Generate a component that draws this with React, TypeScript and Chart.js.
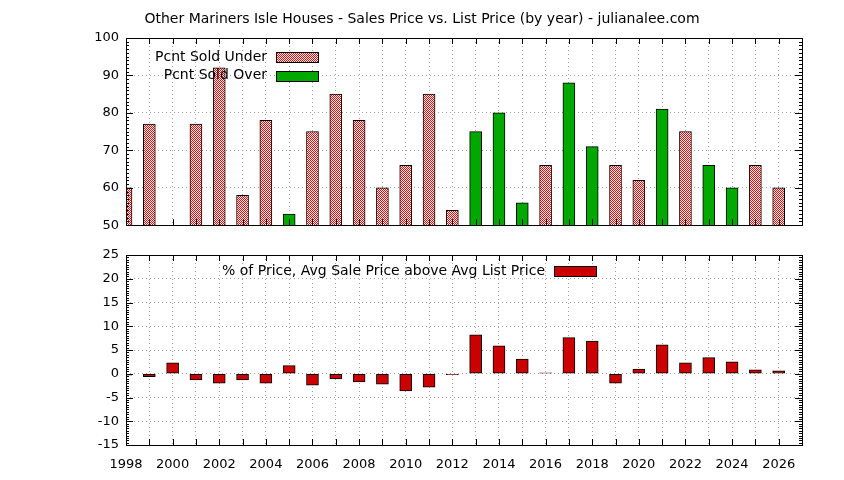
import { useEffect, useRef } from "react";
import { Chart, registerables } from "chart.js";

Chart.register(...registerables);

const years = [
  1998, 1999, 2000, 2001, 2002, 2003, 2004, 2005, 2006, 2007,
  2008, 2009, 2010, 2011, 2012, 2013, 2014, 2015, 2016, 2017,
  2018, 2019, 2020, 2021, 2022, 2023, 2024, 2025, 2026,
];

// percent of homes sold under list price (years shown in the hatched style)
const pcntSoldUnder = [
  60, 77, null, 77, 92, 58, 78, null, 75, 85,
  78, 60, 66, 85, 54, null, null, null, 66, null,
  null, 66, 62, null, 75, null, null, 66, 60,
];

// percent of homes sold over list price (solid green years)
const pcntSoldOver = [
  null, null, null, null, null, null, null, 53, null, null,
  null, null, null, null, null, 75, 80, 56, null, 88,
  71, null, null, 81, null, 66, 60, null, null,
];

// avg sale price above avg list price, in percent
const priceAboveList = [
  -0.3, -0.6, 2.3, -1.3, -2.0, -1.3, -2.0, 1.7, -2.4, -1.1,
  -1.7, -2.2, -3.6, -2.8, -0.2, 8.2, 5.9, 3.1, 0.2, 7.6,
  6.9, -2.0, 1.0, 6.1, 2.3, 3.4, 2.5, 0.8, 0.6,
];

const TITLE =
  "Other Mariners Isle Houses - Sales Price vs. List Price (by year) - julianalee.com";
const UNDER_LABEL = "Pcnt Sold Under";
const OVER_LABEL = "Pcnt Sold Over";
const DIFF_LABEL = "% of Price, Avg Sale Price above Avg List Price";

const FONT = "'DejaVu Sans', 'Verdana', sans-serif";
const GRID = "#a0a0a0";

function hatch(): CanvasPattern | string {
  const c = document.createElement("canvas");
  c.width = 4;
  c.height = 4;
  const g = c.getContext("2d");
  if (!g) return "#ff8080";
  g.fillStyle = "#ffffff";
  g.fillRect(0, 0, 4, 4);
  g.fillStyle = "#ff0000";
  for (let i = 0; i < 4; i++) {
    for (let j = 0; j < 4; j++) {
      if ((i + j) % 2 === 0) g.fillRect(i, j, 1, 1);
    }
  }
  return g.createPattern(c, "repeat") || "#ff8080";
}

// gnuplot-like frame with inward tick marks
const framePlugin = {
  id: "frame",
  afterDatasetsDraw(chart: any, _args: any, opts: any) {
    const { ctx, chartArea: a, scales } = chart;
    const x = scales.x;
    const y = scales.y;
    ctx.save();
    ctx.strokeStyle = "#000";
    ctx.lineWidth = 1;
    ctx.beginPath();
    x.ticks.forEach((t: any) => {
      const px = Math.round(x.getPixelForValue(t.value)) + 0.5;
      ctx.moveTo(px, a.top);
      ctx.lineTo(px, a.top + 6);
      ctx.moveTo(px, a.bottom);
      ctx.lineTo(px, a.bottom - 6);
    });
    y.ticks.forEach((t: any) => {
      const py = Math.round(y.getPixelForValue(t.value)) + 0.5;
      ctx.moveTo(a.left, py);
      ctx.lineTo(a.left + 7, py);
      ctx.moveTo(a.right, py);
      ctx.lineTo(a.right - 7, py);
    });
    for (let v = y.min; v <= y.max + 1e-9; v += opts.minorStep) {
      const py = Math.round(y.getPixelForValue(v)) + 0.5;
      ctx.moveTo(a.left, py);
      ctx.lineTo(a.left + 3, py);
      ctx.moveTo(a.right, py);
      ctx.lineTo(a.right - 3, py);
    }
    ctx.stroke();
    ctx.strokeRect(
      Math.round(a.left) + 0.5,
      Math.round(a.top) + 0.5,
      Math.round(a.right - a.left),
      Math.round(a.bottom - a.top)
    );
    ctx.restore();
  },
};

// key: text right-aligned, swatch to its right
const keyPlugin = {
  id: "keyBox",
  afterDraw(chart: any, _args: any, opts: any) {
    const { ctx } = chart;
    ctx.save();
    ctx.font = `14px ${FONT}`;
    ctx.textAlign = "right";
    ctx.textBaseline = "middle";
    chart.data.datasets.forEach((ds: any, i: number) => {
      const cy = opts.y + i * opts.rowGap;
      ctx.fillStyle = "#000";
      ctx.fillText(ds.label, opts.x, cy);
      ctx.fillStyle = ds.backgroundColor;
      ctx.fillRect(opts.x + 9, Math.round(cy - 5), 43, 10);
      ctx.strokeStyle = "#000";
      ctx.lineWidth = 1;
      ctx.strokeRect(opts.x + 9.5, Math.round(cy - 5) + 0.5, 42, 10);
    });
    ctx.restore();
  },
};

const points = (vals: (number | null)[]) =>
  years.map((yr, i) => ({ x: yr, y: vals[i] }));

const barStyle = {
  borderColor: "#000",
  borderWidth: 1,
  borderSkipped: false,
  barThickness: 12,
  grouped: false,
};

const tickFont = { family: FONT, size: 13 };

// empty right-hand axis that reserves the gap to the right of the frame
const rightGap = {
  position: "right",
  min: 0,
  max: 1,
  ticks: { display: false },
  grid: { display: false, drawTicks: false },
  border: { display: false },
  afterFit: (s: any) => {
    s.width = 42;
  },
};

export default function App() {
  const topRef = useRef<HTMLCanvasElement | null>(null);
  const bottomRef = useRef<HTMLCanvasElement | null>(null);

  useEffect(() => {
    document.body.style.margin = "0";
    const top = topRef.current;
    const bottom = bottomRef.current;
    if (!top || !bottom) return;

    const topChart = new Chart(top, {
      type: "bar",
      data: {
        datasets: [
          { label: UNDER_LABEL, data: points(pcntSoldUnder), backgroundColor: hatch(), ...barStyle },
          { label: OVER_LABEL, data: points(pcntSoldOver), backgroundColor: "#00a800", ...barStyle },
        ],
      } as any,
      options: {
        animation: false,
        responsive: false,
        devicePixelRatio: 1,
        layout: { padding: { left: 0, right: 0, top: 0, bottom: 10 } },
        plugins: {
          legend: { display: false },
          tooltip: { enabled: false },
          title: {
            display: true,
            text: TITLE,
            color: "#000",
            font: { family: FONT, size: 14, weight: "normal" },
            padding: { top: 11, bottom: 10.2 },
          },
          frame: { minorStep: 1 },
          keyBox: { x: 267, y: 57, rowGap: 18.7 },
        } as any,
        scales: {
          x: {
            type: "linear",
            min: 1998,
            max: 2027,
            offset: false,
            ticks: { stepSize: 1, display: false },
            grid: { color: GRID, drawTicks: false, offset: false },
            border: { display: false, dash: [1, 3] },
            afterFit: (s: any) => {
              s.height = 0;
            },
          },
          y: {
            min: 50,
            max: 100,
            ticks: { stepSize: 10, color: "#000", font: tickFont, padding: 7 },
            grid: { color: GRID, drawTicks: false },
            border: { display: false, dash: [1, 3] },
            afterFit: (s: any) => {
              s.width = 126;
            },
          },
          gap: rightGap,
        } as any,
      },
      plugins: [framePlugin, keyPlugin],
    });

    const bottomChart = new Chart(bottom, {
      type: "bar",
      data: {
        datasets: [
          { label: DIFF_LABEL, data: points(priceAboveList), backgroundColor: "#cc0000", ...barStyle },
        ],
      } as any,
      options: {
        animation: false,
        responsive: false,
        devicePixelRatio: 1,
        layout: { padding: { left: 0, right: 0, top: 15, bottom: 0 } },
        plugins: {
          legend: { display: false },
          tooltip: { enabled: false },
          frame: { minorStep: 0.5 },
          keyBox: { x: 545, y: 31, rowGap: 18.7 },
        } as any,
        scales: {
          x: {
            type: "linear",
            min: 1998,
            max: 2027,
            offset: false,
            ticks: {
              stepSize: 1,
              autoSkip: false,
              maxRotation: 0,
              color: "#000",
              font: tickFont,
              padding: 12,
              callback: (v: any) => (v % 2 === 0 ? String(v) : ""),
            },
            grid: { color: GRID, drawTicks: false, offset: false },
            border: { display: false, dash: [1, 3] },
            afterFit: (s: any) => {
              s.height = 35;
            },
          },
          y: {
            min: -15,
            max: 25,
            ticks: { stepSize: 5, color: "#000", font: tickFont, padding: 7 },
            grid: { color: GRID, drawTicks: false },
            border: { display: false, dash: [1, 3] },
            afterFit: (s: any) => {
              s.width = 126;
            },
          },
          gap: rightGap,
        } as any,
      },
      plugins: [framePlugin, keyPlugin],
    });

    return () => {
      topChart.destroy();
      bottomChart.destroy();
    };
  }, []);

  return (
    <div style={{ position: "relative", width: 844, height: 480, background: "#fff" }}>
      <canvas ref={topRef} width={844} height={240} style={{ position: "absolute", left: 0, top: 0 }} />
      <canvas ref={bottomRef} width={844} height={240} style={{ position: "absolute", left: 0, top: 240 }} />
    </div>
  );
}
